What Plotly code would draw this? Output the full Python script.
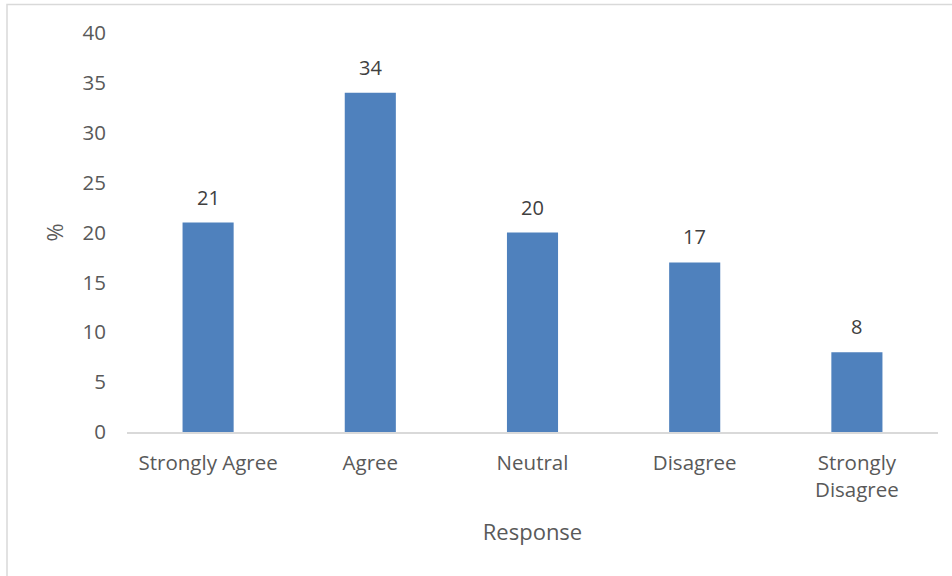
import plotly.graph_objects as go

categories = ["Strongly Agree", "Agree", "Neutral", "Disagree", "Strongly Disagree"]
tick_labels = ["Strongly Agree", "Agree", "Neutral", "Disagree", "Strongly<br>Disagree"]
values = [21, 34, 20, 17, 8]
y_ticks = [0, 5, 10, 15, 20, 25, 30, 35, 40]

FONT = "Open Sans"
fig = go.Figure()
fig.add_trace(go.Bar(x=categories, y=values, marker=dict(color="#4F81BD", line=dict(width=0)),
                     width=0.315, showlegend=False, hoverinfo="x+y"))

for c, v in zip(categories, values):
    fig.add_annotation(x=c, y=v, text=str(v), showarrow=False, yanchor="bottom", yshift=10,
                       font=dict(family=FONT, size=20, color="#404040"))

W, H = 952, 576
ml, mr, mt, mb = 127, 14, 33, 144
pw, ph = W - ml - mr, H - mt - mb
# chart-area border (left and top edges visible)
fig.add_shape(type="rect", xref="paper", yref="paper",
              x0=(7 - ml) / pw, x1=(W + 10 - ml) / pw,
              y0=-(H + 10 - mt - ph) / ph, y1=(ph + mt - 4.5) / ph,
              line=dict(color="#D9D9D9", width=1.5), fillcolor="rgba(0,0,0,0)", layer="below")

fig.update_layout(
    width=W, height=H, margin=dict(l=ml, r=mr, t=mt, b=mb),
    plot_bgcolor="white", paper_bgcolor="white", bargap=0.685,
    font=dict(family=FONT, size=20.5, color="#595959"),
    xaxis=dict(tickvals=categories, ticktext=tick_labels, showline=True, linecolor="#D9D9D9",
               linewidth=1.5, ticks="", showgrid=False, zeroline=False,
               title=dict(text="Response", standoff=23, font=dict(size=22, color="#595959")),
               ticklabelstandoff=12),
    yaxis=dict(range=[0, 40], tickvals=y_ticks, showgrid=False, zeroline=False, showline=False,
               ticks="", ticklabelstandoff=20,
               title=dict(text="%", standoff=12, font=dict(size=22, color="#595959"))),
)
fig.write_html("out.html")
